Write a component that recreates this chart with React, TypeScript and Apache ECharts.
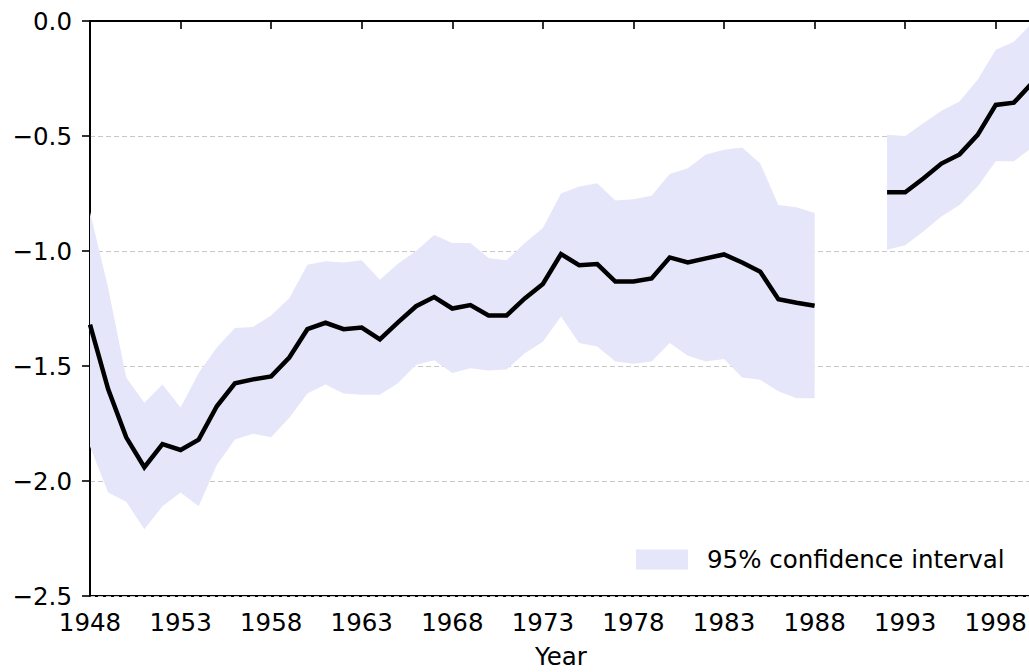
import React, { useEffect, useRef } from "react";
import * as echarts from "echarts";

const years1 = [1948, 1949, 1950, 1951, 1952, 1953, 1954, 1955, 1956, 1957, 1958, 1959, 1960, 1961, 1962, 1963, 1964, 1965, 1966, 1967, 1968, 1969, 1970, 1971, 1972, 1973, 1974, 1975, 1976, 1977, 1978, 1979, 1980, 1981, 1982, 1983, 1984, 1985, 1986, 1987, 1988];
const mean1 = [-1.32, -1.6, -1.81, -1.94, -1.84, -1.865, -1.82, -1.675, -1.575, -1.558, -1.545, -1.463, -1.34, -1.312, -1.34, -1.333, -1.384, -1.31, -1.24, -1.2, -1.25, -1.235, -1.28, -1.28, -1.206, -1.143, -1.013, -1.062, -1.057, -1.133, -1.133, -1.119, -1.028, -1.05, -1.032, -1.015, -1.05, -1.09, -1.21, -1.225, -1.238];
const upper1 = [-0.83, -1.16, -1.55, -1.66, -1.58, -1.68, -1.53, -1.42, -1.335, -1.33, -1.28, -1.205, -1.06, -1.045, -1.05, -1.04, -1.125, -1.055, -1.0, -0.93, -0.965, -0.965, -1.03, -1.04, -0.965, -0.9, -0.75, -0.72, -0.705, -0.78, -0.775, -0.76, -0.665, -0.64, -0.58, -0.56, -0.55, -0.62, -0.8, -0.81, -0.835];
const lower1 = [-1.85, -2.05, -2.09, -2.21, -2.11, -2.05, -2.11, -1.93, -1.82, -1.795, -1.81, -1.725, -1.62, -1.58, -1.62, -1.625, -1.625, -1.575, -1.495, -1.475, -1.53, -1.51, -1.52, -1.515, -1.445, -1.395, -1.285, -1.4, -1.415, -1.48, -1.49, -1.48, -1.4, -1.455, -1.48, -1.47, -1.55, -1.56, -1.61, -1.64, -1.64];

const years2 = [1992, 1993, 1994, 1995, 1996, 1997, 1998, 1999, 2000];
const mean2 = [-0.745, -0.745, -0.685, -0.62, -0.58, -0.495, -0.365, -0.355, -0.27];
const upper2 = [-0.495, -0.5, -0.445, -0.39, -0.35, -0.255, -0.125, -0.09, -0.01];
const lower2 = [-0.995, -0.975, -0.915, -0.85, -0.8, -0.72, -0.61, -0.61, -0.55];

const xTicks = [1948, 1953, 1958, 1963, 1968, 1973, 1978, 1983, 1988, 1993, 1998];
const yTicks = [0, -0.5, -1.0, -1.5, -2.0, -2.5];

const CI_NAME = "95% confidence interval";
const BAND = "#E6E6FA";
const FONT = "DejaVu Sans";
const FS = 24.5;

const segments = [
  { xs: years1, lo: lower1, hi: upper1 },
  { xs: years2, lo: lower2, hi: upper2 },
];

function pairs(xs: number[], ys: number[]) {
  return xs.map((x, i) => [x, ys[i]]);
}

function lineSeries(xs: number[], ys: number[], key: string) {
  return {
    name: "mean" + key,
    type: "line",
    data: pairs(xs, ys),
    symbol: "none",
    lineStyle: { color: "#000", width: 4.5, join: "miter" },
    itemStyle: { color: "#000" },
    z: 3,
  };
}

export default function App() {
  const ref = useRef<HTMLDivElement>(null);
  useEffect(() => {
    if (!ref.current) return;
    const chart = echarts.init(ref.current, undefined, { renderer: "svg" });
    chart.setOption({
      animation: false,
      backgroundColor: "#fff",
      textStyle: { fontFamily: FONT },
      grid: {
        left: 90,
        top: 21,
        width: 942,
        height: 575,
        outerBoundsMode: "none",
        containLabel: false,
        show: true,
        borderColor: "#000",
        borderWidth: 1.8,
        backgroundColor: "transparent",
      },
      legend: {
        data: [{ name: CI_NAME, icon: "rect" }],
        left: 636,
        top: 547,
        padding: 0,
        itemWidth: 52,
        itemHeight: 20,
        itemGap: 10,
        textStyle: { fontFamily: FONT, fontSize: FS, color: "#000", padding: [0, 0, 0, 14] },
        selectedMode: false,
      },
      xAxis: {
        type: "value",
        min: 1948,
        max: 2000,
        interval: 5,
        name: "Year",
        nameLocation: "middle",
        nameGap: 48,
        nameTextStyle: { fontFamily: FONT, fontSize: FS, color: "#000" },
        axisLine: { show: true, lineStyle: { color: "#000", width: 1.8 } },
        axisTick: { show: true, length: 8, lineStyle: { color: "#000", width: 1.6 }, customValues: xTicks },
        axisLabel: {
          customValues: xTicks,
          fontFamily: FONT,
          fontSize: FS,
          color: "#000",
          margin: 14,
          formatter: (v: number) => String(v),
        },
        splitLine: { show: false },
      },
      yAxis: {
        type: "value",
        min: -2.5,
        max: 0,
        interval: 0.5,
        axisLine: { show: true, lineStyle: { color: "#000", width: 1.8 } },
        axisTick: { show: true, length: 8, lineStyle: { color: "#000", width: 1.6 }, customValues: yTicks },
        axisLabel: {
          customValues: yTicks,
          fontFamily: FONT,
          fontSize: FS,
          color: "#000",
          margin: 18,
          formatter: (v: number) => (v < 0 ? "\u2212" : "") + Math.abs(v).toFixed(1),
        },
        splitLine: { show: true, lineStyle: { color: "#c8c8c8", width: 1, type: [5, 3] } },
      },
      series: [
        {
          name: CI_NAME,
          type: "custom",
          coordinateSystem: "cartesian2d",
          itemStyle: { color: BAND },
          encode: { x: 0, y: 1 },
          data: segments.map((s, i) => [s.xs[0], s.hi[0], i]),
          renderItem: (params: any, api: any) => {
            const seg = segments[params.dataIndex];
            const pts: number[][] = [];
            seg.xs.forEach((x, i) => pts.push(api.coord([x, seg.hi[i]])));
            for (let i = seg.xs.length - 1; i >= 0; i--) pts.push(api.coord([seg.xs[i], seg.lo[i]]));
            return {
              type: "polygon",
              shape: { points: pts },
              style: { fill: BAND, stroke: "none" },
            };
          },
          z: 1,
        },
        lineSeries(years1, mean1, "a"),
        lineSeries(years2, mean2, "b"),
      ],
    });
    return () => chart.dispose();
  }, []);
  return (
    <div
      ref={ref}
      style={{ position: "fixed", left: 0, top: 0, width: 1029, height: 672 }}
    />
  );
}
